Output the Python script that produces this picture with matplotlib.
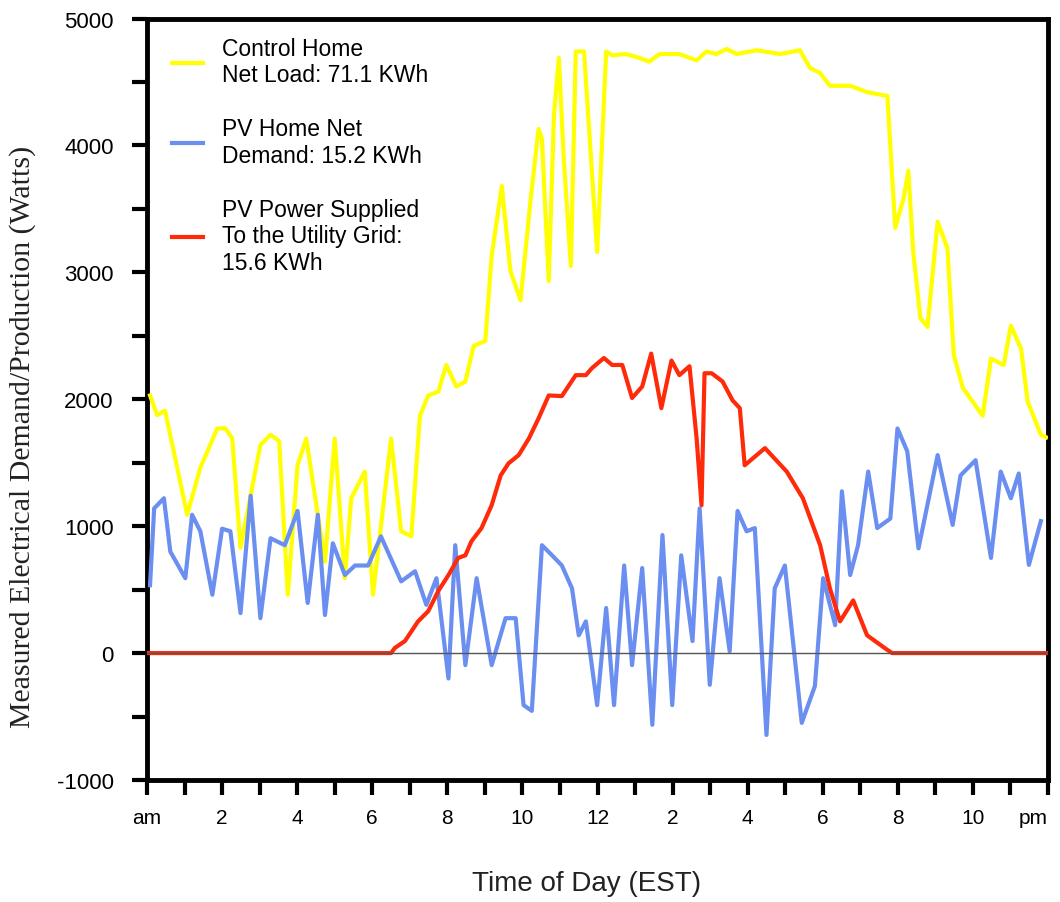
import matplotlib.pyplot as plt
from matplotlib.ticker import MultipleLocator

# hours since midnight / watts
control_h = [0.08, 0.27, 0.48, 1.07, 1.42, 1.87, 2.09, 2.27, 2.49, 2.81, 3.02, 3.29, 3.52, 3.75,
             4.01, 4.24, 4.55, 4.74, 5.0, 5.27, 5.44, 5.8, 6.02, 6.5, 6.77, 7.04, 7.27, 7.49,
             7.76, 7.97, 8.24, 8.48, 8.7, 9.01, 9.18, 9.45, 9.68, 9.95, 10.22, 10.43, 10.52,
             10.7, 10.84, 10.97, 11.1, 11.29, 11.42, 11.64, 11.99, 12.23, 12.39, 12.76, 13.11,
             13.38, 13.65, 14.18, 14.64, 14.9, 15.17, 15.44, 15.71, 16.24, 16.86, 17.39, 17.66,
             17.93, 18.19, 18.73, 19.18, 19.72, 19.93, 20.15, 20.28, 20.41, 20.6, 20.79, 21.06,
             21.32, 21.49, 21.73, 22.26, 22.48, 22.82, 23.01, 23.28, 23.46, 23.81, 23.95]
control_w = [2030, 1875, 1910, 1090, 1460, 1770, 1770, 1690, 830, 1320, 1640, 1720, 1670, 460,
             1480, 1690, 1090, 720, 1690, 590, 1220, 1430, 460, 1690, 960, 920, 1870, 2030,
             2060, 2270, 2100, 2140, 2420, 2460, 3130, 3680, 3010, 2780, 3580, 4130, 4050,
             2930, 4240, 4690, 3900, 3050, 4740, 4740, 3160, 4740, 4710, 4720, 4690,
             4660, 4720, 4720, 4670, 4740, 4720, 4760, 4720, 4750, 4720, 4750, 4610,
             4570, 4470, 4470, 4420, 4390, 3350, 3580, 3800, 3160, 2640, 2570, 3400,
             3190, 2350, 2090, 1870, 2320, 2270, 2580, 2400, 1980, 1720, 1700]

pv_home_h = [0.08, 0.19, 0.45, 0.62, 1.02, 1.2, 1.42, 1.74, 2.0, 2.22, 2.49, 2.76, 3.02, 3.29,
             3.67, 4.01, 4.28, 4.55, 4.74, 4.95, 5.27, 5.54, 5.89, 6.23, 6.77, 7.14, 7.44, 7.71,
             8.03, 8.21, 8.48, 8.78, 9.18, 9.55, 9.82, 10.03, 10.25, 10.52, 10.79, 11.05, 11.32,
             11.5, 11.69, 11.99, 12.23, 12.44, 12.71, 12.92, 13.19, 13.46, 13.73, 13.99, 14.23,
             14.53, 14.72, 14.99, 15.25, 15.52, 15.73, 15.97, 16.19, 16.5, 16.72, 16.99, 17.44,
             17.79, 18.01, 18.33, 18.51, 18.73, 18.94, 19.21, 19.45, 19.8, 19.99, 20.25, 20.55,
             21.06, 21.46, 21.67, 22.07, 22.48, 22.74, 23.01, 23.22, 23.49, 23.81]
pv_home_w = [535, 1140, 1220, 800, 590, 1090, 960, 460, 980, 960, 315, 1240, 275, 905,
             850, 1120, 395, 1090, 300, 865, 615, 690, 690, 920, 565, 645, 380, 590,
             -200, 850, -95, 590, -95, 275, 275, -410, -455, 850, 770, 690, 510,
             140, 250, -410, 355, -410, 690, -95, 670, -565, 930, -410, 770,
             95, 1140, -250, 590, 15, 1120, 960, 985, -645, 510, 690, -550,
             -260, 590, 220, 1275, 615, 850, 1430, 985, 1060, 1770, 1590, 825,
             1560, 1010, 1400, 1520, 750, 1430, 1220, 1415, 695, 1040]

grid_h = [0.0, 6.5, 6.6, 6.87, 7.22, 7.49, 7.76, 8.03, 8.29, 8.48, 8.64, 8.91, 9.18, 9.42, 9.63,
          9.9, 10.17, 10.43, 10.7, 11.05, 11.42, 11.69, 11.85, 12.17, 12.39, 12.66, 12.92, 13.19,
          13.43, 13.7, 13.97, 14.18, 14.45, 14.64, 14.77, 14.85, 15.04, 15.33, 15.6, 15.79,
          15.92, 16.46, 17.04, 17.47, 17.93, 18.19, 18.46, 18.81, 19.18, 19.72, 19.85, 24.0]
grid_w = [0, 0, 40, 95, 250, 330, 490, 615, 750, 770, 880, 985, 1165, 1400, 1495,
          1560, 1690, 1850, 2030, 2025, 2190, 2190, 2245, 2325, 2270, 2270, 2010, 2100,
          2360, 1930, 2305, 2190, 2260, 1690, 1165, 2205, 2205, 2140, 1990, 1930,
          1480, 1615, 1430, 1220, 850, 510, 250, 415, 140, 25, 0, 0]

labels = ['Control Home\nNet Load: 71.1 KWh',
          'PV Home Net\nDemand: 15.2 KWh',
          'PV Power Supplied\nTo the Utility Grid:\n15.6 KWh']
hour_labels = ['am', '2', '4', '6', '8', '10', '12', '2', '4', '6', '8', '10', 'pm']

plt.rcParams['font.family'] = ['Liberation Sans', 'DejaVu Sans']
plt.rcParams['axes.unicode_minus'] = False

fig = plt.figure(figsize=(10.6, 9.03), dpi=100)
ax = fig.add_axes([0.1387, 0.1351, 0.85, 0.8433])

ax.plot(control_h, control_w, color='#ffff00', lw=3, label=labels[0], zorder=3)
ax.plot(pv_home_h, pv_home_w, color='#6a8ff0', lw=3, label=labels[1], zorder=4)
ax.plot(grid_h, grid_w, color='#ff2a0a', lw=3, label=labels[2], zorder=5)
ax.axhline(0, color='#555555', lw=1, zorder=6)

ax.set_xlim(0, 24)
ax.set_ylim(-1000, 5000)
ax.set_xticks(range(0, 25, 2))
ax.set_xticklabels(hour_labels)
ax.get_xticklabels()[-1].set_horizontalalignment('right')  # keep 'pm' inside the figure
ax.xaxis.set_minor_locator(MultipleLocator(1))
ax.yaxis.set_major_locator(MultipleLocator(1000))
ax.yaxis.set_minor_locator(MultipleLocator(500))
ax.tick_params(axis='both', which='both', direction='out', width=3, color='black')
ax.tick_params(axis='x', which='both', length=11, pad=9, labelsize=15)
ax.tick_params(axis='y', which='both', length=11, pad=13, labelsize=16)
for s in ax.spines.values():
    s.set_linewidth(3.5)

# axis titles placed where they sit in the picture
fig.text(587 / 1060, 1 - 884 / 903, 'Time of Day (EST)', fontsize=20,
         ha='center', va='center', color='#222222')
fig.text(23 / 1060, 1 - 437 / 903, 'Measured Electrical Demand/Production (Watts)',
         fontsize=21.5, family=['Liberation Serif'], rotation=90,
         ha='center', va='center', color='#222222')

ax.legend(loc='upper left', bbox_to_anchor=(0.0277, 0.976), frameon=False, fontsize=16.5,
          borderpad=0, borderaxespad=0, handlelength=1.35, handletextpad=0.85,
          labelspacing=1.35)

plt.savefig('out.png', dpi=100)
